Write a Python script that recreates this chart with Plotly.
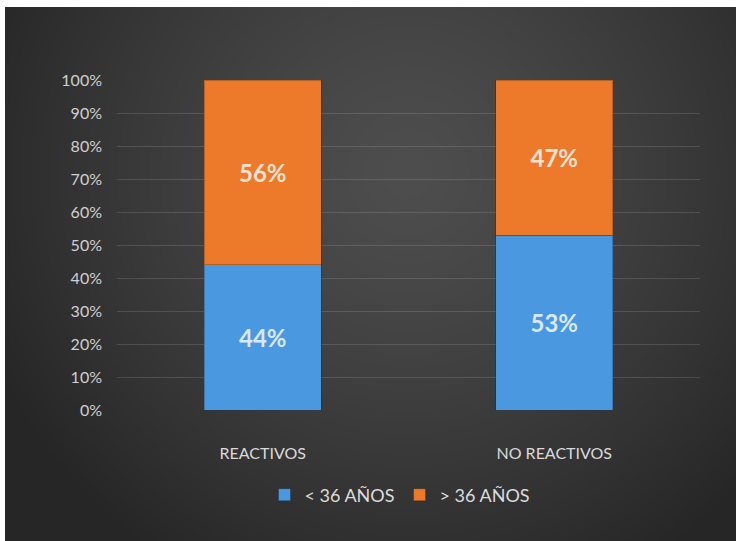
import base64
import struct
import zlib

import numpy as np
import plotly.graph_objects as go

# ---- data ----
categories = ["REACTIVOS", "NO REACTIVOS"]
menores_36 = [44, 53]   # < 36 AÑOS
mayores_36 = [56, 47]   # > 36 AÑOS
series_names = ["< 36 AÑOS", "> 36 AÑOS"]

W, H = 736, 541


def png_data_uri(rgb):
    """Encode an (h, w, 3) uint8 array as a PNG data URI."""
    h, w, _ = rgb.shape
    raw = b"".join(b"\x00" + rgb[r].tobytes() for r in range(h))

    def chunk(tag, data):
        c = struct.pack(">I", len(data)) + tag + data
        return c + struct.pack(">I", zlib.crc32(tag + data) & 0xFFFFFFFF)

    png = b"\x89PNG\r\n\x1a\n"
    png += chunk(b"IHDR", struct.pack(">IIBBBBB", w, h, 8, 2, 0, 0, 0))
    png += chunk(b"IDAT", zlib.compress(raw, 9))
    png += chunk(b"IEND", b"")
    return "data:image/png;base64," + base64.b64encode(png).decode()


# dark radial backdrop, lighter toward the upper middle
gw, gh = 240, 176
yy, xx = np.mgrid[0:gh, 0:gw]
u = xx / (gw - 1)
v = yy / (gh - 1)
d = np.sqrt(((u - 0.54) / 0.62) ** 2 + ((v - 0.30) / 0.85) ** 2)
d = np.clip(d, 0, 1)
val = 78 - 40 * d ** 1.3
bg = np.clip(np.stack([val, val, val], axis=-1), 0, 255).astype(np.uint8)
bg_uri = png_data_uri(bg)

blue = "#4a98e0"
orange = "#ec7a2a"
label_font = dict(family="Lato", size=24, color="rgba(255,255,255,0.8)")

fig = go.Figure()
for name, vals, col in [(series_names[0], menores_36, blue),
                        (series_names[1], mayores_36, orange)]:
    fig.add_trace(go.Bar(
        x=categories,
        y=vals,
        name=name,
        text=[f"{v}%" for v in vals],
        marker=dict(color=col, line=dict(color="rgba(20,20,20,0.25)", width=1)),
        texttemplate="<b>%{text}</b>",
        textposition="inside",
        insidetextanchor="middle",
        insidetextfont=label_font,
        constraintext="none",
    ))

fig.update_layout(
    width=W,
    height=H,
    barmode="stack",
    bargap=0.6,
    margin=dict(l=0, r=0, t=0, b=0, autoexpand=False),
    paper_bgcolor="white",
    plot_bgcolor="rgba(0,0,0,0)",
    font=dict(family="Lato", color="#d6d6d6"),
    showlegend=True,
    legend=dict(
        orientation="h",
        x=400 / W,
        xanchor="center",
        y=1 - 495 / H,
        yanchor="middle",
        font=dict(family="Lato", size=18, color="#dcdcdc"),
        bgcolor="rgba(0,0,0,0)",
        itemwidth=30,
        traceorder="normal",
    ),
    images=[dict(
        source=bg_uri,
        xref="paper", yref="paper",
        x=5 / W, y=1 - 7 / H,
        sizex=(W + 10) / W, sizey=(H + 10) / H,
        xanchor="left", yanchor="top",
        sizing="stretch",
        layer="below",
    )],
    xaxis=dict(
        domain=[117 / W, 700 / W],
        showgrid=False,
        showline=False,
        zeroline=False,
        ticks="",
        ticklabelstandoff=32,
        tickfont=dict(family="Lato", size=16, color="#dadada"),
    ),
    yaxis=dict(
        domain=[1 - 410 / H, 1 - 80 / H],
        range=[0, 100],
        dtick=10,
        ticksuffix="%",
        showgrid=True,
        gridcolor="rgba(255,255,255,0.13)",
        gridwidth=1,
        zeroline=False,
        showline=False,
        ticks="",
        ticklabelstandoff=14,
        tickfont=dict(family="Lato", size=16, color="#d0d0d0"),
    ),
)

fig.write_html("out.html")
